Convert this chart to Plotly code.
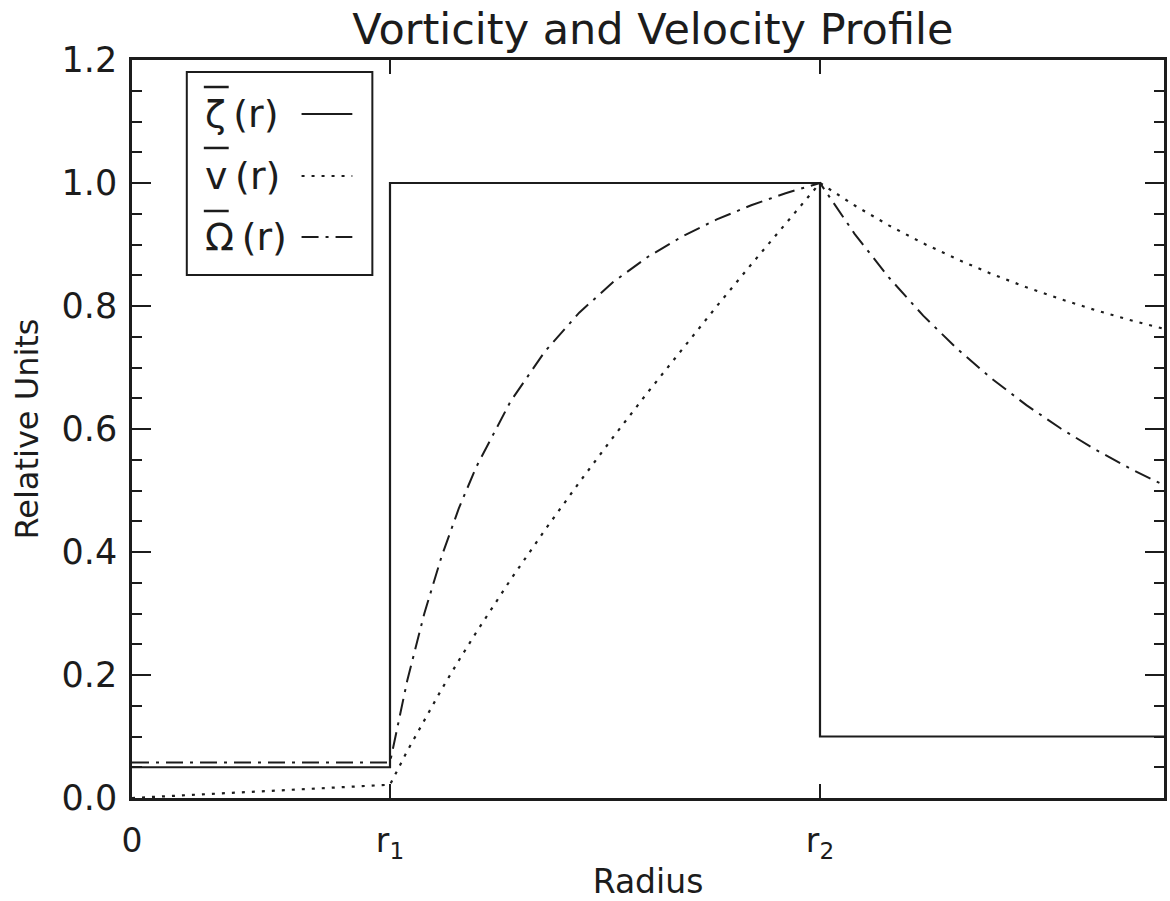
import plotly.graph_objects as go

# Radii (in units of r2) and the three normalised profiles
R1 = 0.375
R2 = 1.0
R_MAX = 1.5

# Mean vorticity: piecewise constant core / ring / outer region
zeta_r = [0.0, 0.375, 0.375, 1.0, 1.0, 1.5]
zeta_vals = [0.05, 0.05, 1.0, 1.0, 0.1, 0.1]

# Mean azimuthal velocity
v_r = [0.0, 0.375, 0.40, 0.425, 0.45, 0.475, 0.50, 0.55, 0.60, 0.65, 0.70,
       0.75, 0.80, 0.85, 0.90, 0.95, 1.00, 1.05, 1.10, 1.15, 1.20, 1.25,
       1.30, 1.35, 1.40, 1.45, 1.50]
v_vals = [0.0, 0.0216, 0.0762, 0.1277, 0.1767, 0.2236, 0.2687, 0.3545, 0.4355,
          0.5130, 0.5877, 0.6601, 0.7306, 0.7997, 0.8675, 0.9342, 1.0000,
          0.9637, 0.9311, 0.9019, 0.8757, 0.8519, 0.8305, 0.8111, 0.7934,
          0.7774, 0.7629]

# Mean angular velocity
omega_r = [0.0, 0.375, 0.40, 0.425, 0.45, 0.475, 0.50, 0.55, 0.60, 0.65, 0.70,
           0.75, 0.80, 0.85, 0.90, 0.95, 1.00, 1.05, 1.10, 1.15, 1.20, 1.25,
           1.30, 1.35, 1.40, 1.45, 1.50]
omega_vals = [0.0577, 0.0577, 0.1905, 0.3005, 0.3928, 0.4708, 0.5374, 0.6445,
              0.7259, 0.7892, 0.8395, 0.8801, 0.9133, 0.9408, 0.9638, 0.9834,
              1.0000, 0.9178, 0.8465, 0.7843, 0.7297, 0.6816, 0.6388, 0.6008,
              0.5667, 0.5361, 0.5086]

x_tick_vals = [0.0, R1, R2]
x_tick_text = ["0", "r<sub>1</sub>", "r<sub>2</sub>"]
y_tick_vals = [0.0, 0.2, 0.4, 0.6, 0.8, 1.0, 1.2]

INK = "#1c1c1c"
FONT = "DejaVu Sans"
DOT = "3px,7px"
DASHDOT = "17px,7px,3px,7px"

fig = go.Figure()
fig.add_trace(go.Scatter(x=zeta_r, y=zeta_vals, mode="lines",
                         line=dict(color=INK, width=2.2), showlegend=False))
fig.add_trace(go.Scatter(x=v_r, y=v_vals, mode="lines",
                         line=dict(color=INK, width=2.2, dash=DOT), showlegend=False))
fig.add_trace(go.Scatter(x=omega_r, y=omega_vals, mode="lines",
                         line=dict(color=INK, width=2, dash=DASHDOT), showlegend=False))

# Boxed key: barred symbol and "(r)" on the left, line sample on the right
key_rows = [("ζ\u2009(r)", None, 0.9268, 0.9634),
            ("v\u2009(r)", DOT, 0.8428, 0.8808),
            ("Ω\u2009(r)", DASHDOT, 0.7602, 0.7954)]
shapes = [dict(type="rect", xref="paper", yref="paper",
               x0=0.0531, x1=0.2329, y0=0.7087, y1=0.9837,
               line=dict(color=INK, width=2), fillcolor="rgba(0,0,0,0)")]
annotations = []
for label, dash, yk, ybar in key_rows:
    annotations.append(dict(text=label, xref="paper", yref="paper", x=0.0686, y=yk,
                            xanchor="left", yanchor="middle", showarrow=False,
                            font=dict(family=FONT, size=38, color=INK)))
    # mean-value bar over the symbol
    shapes.append(dict(type="line", xref="paper", yref="paper",
                       x0=0.0696, x1=0.0937, y0=ybar, y1=ybar,
                       line=dict(color=INK, width=2.5)))
    line = dict(color=INK, width=2)
    if dash:
        line["dash"] = dash
    shapes.append(dict(type="line", xref="paper", yref="paper",
                       x0=0.1643, x1=0.2135, y0=yk, y1=yk, line=line))

fig.update_layout(
    width=1170, height=901,
    margin=dict(l=132, r=3, t=60, b=103),
    paper_bgcolor="white", plot_bgcolor="white",
    title=dict(text="Vorticity and Velocity Profile", x=0.558, xanchor="center",
               y=0.985, yanchor="top", font=dict(family=FONT, size=43, color=INK)),
    shapes=shapes, annotations=annotations,
    xaxis=dict(range=[0, R_MAX], tickvals=x_tick_vals, ticktext=x_tick_text,
               ticks="inside", ticklen=14, tickwidth=2, tickcolor=INK,
               showline=True, linecolor=INK, linewidth=2.5, mirror="allticks",
               showgrid=False, zeroline=False, ticklabelstandoff=12,
               tickfont=dict(family=FONT, size=33, color=INK),
               title=dict(text="Radius", standoff=10,
                          font=dict(family=FONT, size=33, color=INK))),
    yaxis=dict(range=[0, 1.2], tickvals=y_tick_vals, tickformat=".1f",
               ticks="inside", ticklen=19, tickwidth=2, tickcolor=INK,
               minor=dict(dtick=0.05, ticks="inside", ticklen=10, tickwidth=2,
                          tickcolor=INK, showgrid=False),
               showline=True, linecolor=INK, linewidth=2.5, mirror="allticks",
               showgrid=False, zeroline=False, ticklabelstandoff=5,
               tickfont=dict(family=FONT, size=35, color=INK),
               title=dict(text="Relative Units", standoff=14,
                          font=dict(family=FONT, size=32, color=INK))),
)

fig.write_html("out.html")
